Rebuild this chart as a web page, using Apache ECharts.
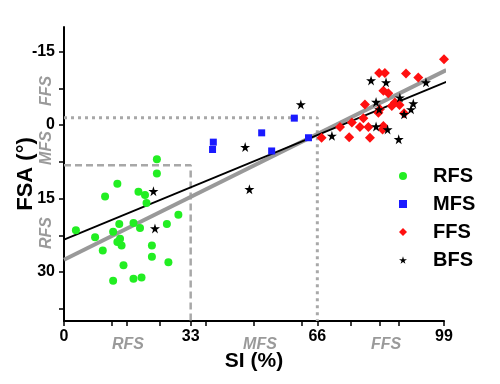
<!DOCTYPE html>
<html><head><meta charset="utf-8">
<script src="https://cdn.jsdelivr.net/npm/echarts@6/dist/echarts.min.js"></script>
<style>html,body{margin:0;padding:0;background:#fff}#c{width:500px;height:384px}</style>
</head><body><div id="c"></div>
<script>
// ---- data (SI %, FSA °) ----
const rfsSI  = [24.2,24.2,13.9,10.7,19.4,21.1,21.5,29.8,26.8,3.1,14.4,18.1,19.8,12.8,8.1,14.6,13.9,15.0,10.1,22.9,22.9,27.2,15.5,12.8,18.1,20.2];
const rfsFSA = [7.0,9.9,12.0,14.6,13.6,14.3,15.9,18.3,20.2,21.5,20.2,20.0,21.0,21.8,22.9,23.2,23.9,24.6,25.6,24.6,26.9,28.0,28.6,31.8,31.4,31.1];
const mfsSI  = [60.0,51.5,38.9,38.7,54.1,63.7];
const mfsFSA = [-1.4,1.6,3.5,5.0,5.3,2.6];
const ffsSI  = [99.0,82.1,83.6,89.1,92.3,83.2,84.5,78.4,82.3,85.4,87.4,81.9,78.0,75.0,77.1,79.3,83.2,83.0,71.9,74.3,79.7,67.1,86.2,88.6];
const ffsFSA = [-13.4,-10.6,-10.6,-10.5,-9.7,-7.0,-6.5,-4.2,-3.2,-3.9,-4.1,-2.5,-1.4,-0.5,0.4,0.4,0.2,0.9,0.4,2.5,2.6,2.6,-4.6,-2.4];
const bfsSI  = [23.3,23.7,47.2,48.3,61.7,69.8,80.0,83.9,94.3,81.3,87.5,91.0,90.4,88.6,82.1,81.3,84.3,87.2];
const bfsFSA = [13.5,21.1,4.5,13.1,-4.2,2.2,-9.1,-8.7,-8.7,-4.7,-5.6,-4.4,-3.2,-2.2,-3.2,0.3,0.9,2.9];
const fitBlackSI = [0, 99.6], fitBlackFSA = [23.4, -8.8];
const fitGreySI  = [0, 99.6], fitGreyFSA  = [27.5, -11.2];
const rfsCutSI = [0, 33, 33], rfsCutFSA = [8.2, 8.2, 40];
const ffsCutSI = [0, 66, 66], ffsCutFSA = [-1.5, -1.5, 40];
const xTickLabels = [0, 33, 66, 99];
const xTicks = [0, 12.4, 16.4, 25, 33, 37, 49.5, 62, 66, 74.7, 82.3, 87.2, 99];
const yTickLabels = [-15, 0, 15, 30];
const yTicks = [-15, -7.5, 0, 7.5, 15, 22.5, 30, 37.5];
const names = ['RFS','MFS','FFS','BFS'];
const zoneNames = ['RFS','MFS','FFS'];

const zip = (a, b) => a.map((v, i) => [v, b[i]]);
const STAR = 'path://M50,0 L61,35 L98,35 L68,57 L79,91 L50,70 L21,91 L32,57 L2,35 L39,35 Z';
const FONT = '"Liberation Sans", Arial, sans-serif';

const chart = echarts.init(document.getElementById('c'), null, {renderer: 'canvas'});
const grey = '#a8a8a8';
const zoneTxt = (t, x, y, rot) => ({
  type: 'text', x: x, y: y, rotation: rot || 0, z: 10,
  style: {text: t, font: 'italic bold 16px ' + FONT, fill: '#9a9a9a', align: 'center', verticalAlign: 'middle'}
});
chart.setOption({
  animation: false,
  grid: {left: 64, right: 56, top: 27, bottom: 63, containLabel: false, outerBoundsMode: 'none'},
  xAxis: {
    type: 'value', min: 0, max: 99, interval: 33,
    name: 'SI (%)', nameLocation: 'middle', nameGap: 30, nameMoveOverlap: false,
    nameTextStyle: {fontFamily: FONT, fontWeight: 'bold', fontSize: 21, color: '#000'},
    axisLine: {onZero: false, lineStyle: {color: '#000', width: 2}},
    axisTick: {length: 5, lineStyle: {color: '#000', width: 1.5}, customValues: xTicks},
    axisLabel: {customValues: xTickLabels, fontFamily: FONT, fontWeight: 'bold', fontSize: 16, color: '#000', margin: 8},
    splitLine: {show: false}
  },
  yAxis: {
    type: 'value', min: -20, max: 40, inverse: true,
    name: 'FSA (°)', nameLocation: 'middle', nameGap: 27, nameMoveOverlap: false,
    nameTextStyle: {fontFamily: FONT, fontWeight: 'bold', fontSize: 22, color: '#000'},
    axisLine: {onZero: false, lineStyle: {color: '#000', width: 2}},
    axisTick: {length: 5, lineStyle: {color: '#000', width: 1.5}, customValues: yTicks},
    axisLabel: {customValues: yTickLabels, fontFamily: FONT, fontWeight: 'bold', fontSize: 16, color: '#000', margin: 9},
    splitLine: {show: false}
  },
  legend: {
    orient: 'vertical', left: 394, top: 161, itemWidth: 8, itemHeight: 8, itemGap: 8,
    data: [
      {name: names[0], icon: 'circle'},
      {name: names[1], icon: 'rect'},
      {name: names[2], icon: 'diamond'},
      {name: names[3], icon: STAR}
    ],
    textStyle: {fontFamily: FONT, fontWeight: 'bold', fontSize: 20, lineHeight: 20, color: '#000', padding: [0, 0, 0, 21]}
  },
  graphic: [
    zoneTxt(zoneNames[0], 128, 345), zoneTxt(zoneNames[1], 260, 345), zoneTxt(zoneNames[2], 386, 345),
    zoneTxt(zoneNames[2], 47, 91, Math.PI / 2), zoneTxt(zoneNames[1], 47, 148, Math.PI / 2), zoneTxt(zoneNames[0], 47, 233, Math.PI / 2)
  ],
  series: [
    {type: 'line', data: zip(rfsCutSI, rfsCutFSA), symbol: 'none', silent: true, z: 1,
     lineStyle: {color: grey, width: 2.5, type: [7, 4]}},
    {type: 'line', data: zip(ffsCutSI, ffsCutFSA), symbol: 'none', silent: true, z: 1,
     lineStyle: {color: grey, width: 3, type: [3, 4]}},
    {type: 'line', data: zip(fitGreySI, fitGreyFSA), symbol: 'none', silent: true, z: 2,
     lineStyle: {color: '#999', width: 4}},
    {type: 'line', data: zip(fitBlackSI, fitBlackFSA), symbol: 'none', silent: true, z: 2,
     lineStyle: {color: '#000', width: 1.8}},
    {name: names[0], type: 'scatter', data: zip(rfsSI, rfsFSA), symbol: 'circle', symbolSize: 8, z: 3,
     itemStyle: {color: '#22ee22', opacity: 1}},
    {name: names[1], type: 'scatter', data: zip(mfsSI, mfsFSA), symbol: 'rect', symbolSize: 7, z: 3,
     itemStyle: {color: '#1a1aff', opacity: 1}},
    {name: names[2], type: 'scatter', data: zip(ffsSI, ffsFSA), symbol: 'diamond', symbolSize: 10, z: 3,
     itemStyle: {color: '#ff1010', opacity: 1}},
    {name: names[3], type: 'scatter', data: zip(bfsSI, bfsFSA), symbol: STAR, symbolSize: 10, z: 4,
     itemStyle: {color: '#000', opacity: 1}}
  ]
});
</script></body></html>
